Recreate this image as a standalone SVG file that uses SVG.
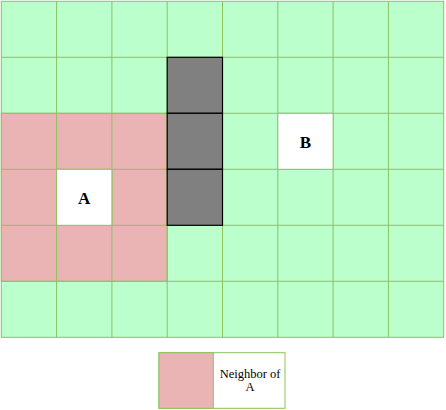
<svg xmlns="http://www.w3.org/2000/svg" width="446" height="410" viewBox="0 0 446 410">
<style>
.g{fill:#bbffcc;stroke:#8bc45a;stroke-width:1}
.p{fill:#ebb4b4;stroke:#8bc45a;stroke-width:1}
.w{fill:#ffffff;stroke:#8bc45a;stroke-width:1}
.d{fill:#808080;stroke:#000000;stroke-width:1.2}
.lbl{font-family:"Liberation Serif",serif;font-weight:bold;font-size:17px;fill:#000;text-anchor:middle}
.lg{font-family:"Liberation Serif",serif;font-size:12.5px;fill:#000;text-anchor:middle}
</style>
<g id="grid">
<rect class="g" x="1.3" y="1.3" width="442.4" height="336"/>
<rect class="p" x="1.3" y="113.3" width="165.9" height="168"/>
<path d="M56.6 1.3V337.3M111.9 1.3V337.3M167.2 1.3V337.3M222.5 1.3V337.3M277.8 1.3V337.3M333.1 1.3V337.3M388.4 1.3V337.3M1.3 57.3H443.7M1.3 113.3H443.7M1.3 169.3H443.7M1.3 225.3H443.7M1.3 281.3H443.7" fill="none" stroke="#8bc45a" stroke-width="1"/>
</g>
<g id="walls">
<rect class="d" x="167.2" y="57.3" width="55.3" height="56"/>
<rect class="d" x="167.2" y="113.3" width="55.3" height="56"/>
<rect class="d" x="167.2" y="169.3" width="55.3" height="56"/>
</g>
<g id="nodeA">
<rect class="w" x="56.6" y="169.3" width="55.3" height="56"/>
<text class="lbl" x="84.2" y="203.5">A</text>
</g>
<g id="nodeB">
<rect class="w" x="277.8" y="113.3" width="55.3" height="56"/>
<text class="lbl" x="305.5" y="147.5">B</text>
</g>
<g id="connectors"></g>
<g id="legend">
<rect class="w" x="159" y="352.7" width="126" height="55.6"/>
<rect class="p" x="159" y="352.7" width="54.3" height="55.6"/>
<text class="lg" x="250" y="378">Neighbor of</text>
<text class="lg" x="250" y="391">A</text>
</g>
</svg>
